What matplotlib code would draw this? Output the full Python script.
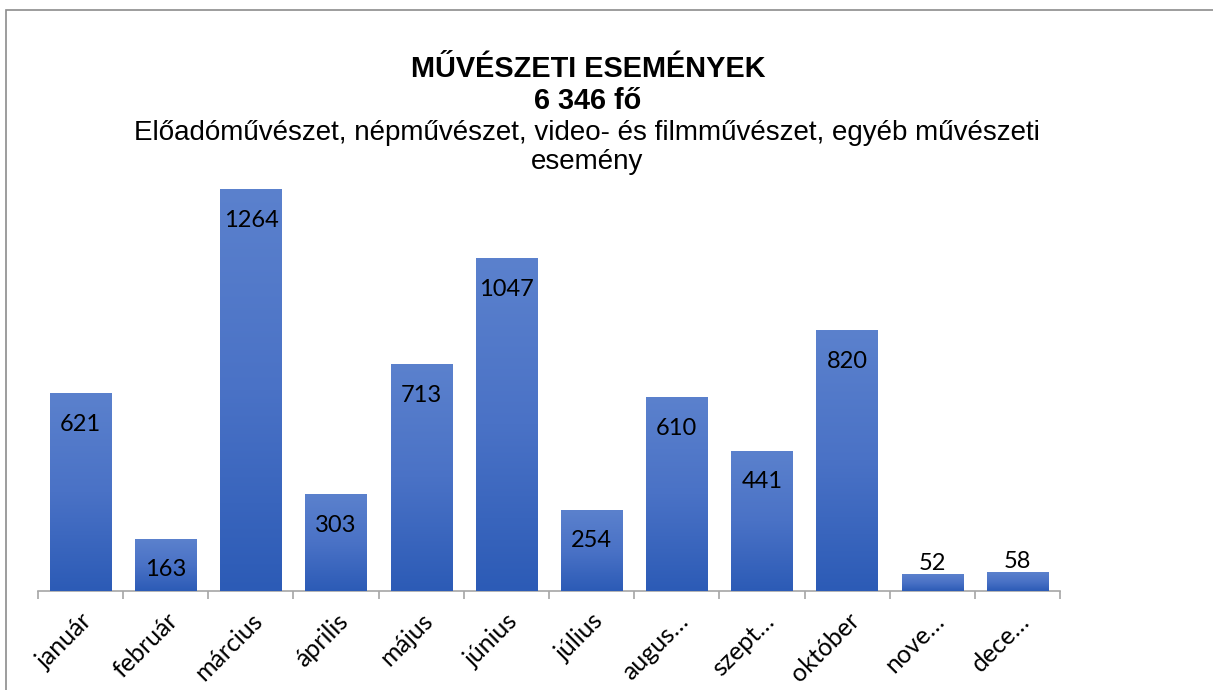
import numpy as np
import matplotlib.pyplot as plt
from matplotlib.colors import LinearSegmentedColormap
from matplotlib.patches import Rectangle
import matplotlib.patheffects as pe

months = ["január", "február", "március", "április", "május", "június",
          "július", "augus…", "szept…", "október", "nove…", "dece…"]
values = [621, 163, 1264, 303, 713, 1047, 254, 610, 441, 820, 52, 58]

title_lines = ["MŰVÉSZETI ESEMÉNYEK", "6 346 fő"]
subtitle_lines = ["Előadóművészet, népművészet, video- és filmművészet, egyéb művészeti",
                  "esemény"]

W, H = 1213, 690
fig = plt.figure(figsize=(W / 100, H / 100), dpi=100)

# outer chart border (left and top visible)
fig.patches.append(Rectangle((6 / W, -0.1), 1.2, 1.1 - 10 / H, transform=fig.transFigure,
                             fill=False, edgecolor="#8c8c8c", lw=1.2))

ymax = 1300
ax_left, ax_right, ax_base = 38, 1060, 591
ax_h = ymax * 0.31725
ax = fig.add_axes([ax_left / W, 1 - ax_base / H, (ax_right - ax_left) / W, ax_h / H])

x = np.arange(len(months))
bw = 0.72
cmap = LinearSegmentedColormap.from_list("blu", ["#2c5bb6", "#4a72c6", "#5b81cd"])
grad = np.linspace(0, 1, 256).reshape(-1, 1)

for xi, v in zip(x, values):
    bar = ax.bar(xi, v, width=bw, color="#4a72c6", zorder=2)[0]
    bar.set_path_effects([pe.SimplePatchShadow(offset=(0, -1), shadow_rgbFace="#999999", alpha=0.5),
                          pe.Normal()])
    ax.imshow(grad, extent=[xi - bw / 2, xi + bw / 2, 0, v], origin="lower",
              cmap=cmap, aspect="auto", zorder=3)
    if v > 120:
        ax.annotate(str(v), (xi, v), xytext=(0, -22), textcoords="offset points",
                    ha="center", va="center", fontsize=17, family="Lato", zorder=4)
    else:
        ax.annotate(str(v), (xi, v), xytext=(0, 8), textcoords="offset points",
                    ha="center", va="center", fontsize=17, family="Lato", zorder=4)

ax.set_xlim(-0.5, len(months) - 0.5)
ax.set_ylim(0, ymax)
ax.set_yticks([])
for s in ["top", "right", "left"]:
    ax.spines[s].set_visible(False)
ax.spines["bottom"].set_color("#a6a6a6")
ax.spines["bottom"].set_linewidth(1.2)

ax.set_xticks(x)
ax.set_xticklabels(months, rotation=45, ha="right", rotation_mode="anchor",
                   fontsize=18, family="Lato")
ax.tick_params(axis="x", which="major", length=0, pad=13)
ax.set_xticks(np.arange(-0.5, len(months)), minor=True)
ax.tick_params(axis="x", which="minor", length=6, color="#a6a6a6", width=1.2)

for txt, yb in zip(title_lines, [77, 109]):
    fig.text(588 / W, 1 - yb / H, txt, ha="center", va="baseline", fontsize=20.8,
             fontweight="bold", family="Liberation Sans")
for txt, yb in zip(subtitle_lines, [140, 169]):
    fig.text(587 / W, 1 - yb / H, txt, ha="center", va="baseline", fontsize=20,
             family="Liberation Sans")

fig.savefig("out.png", dpi=100)
